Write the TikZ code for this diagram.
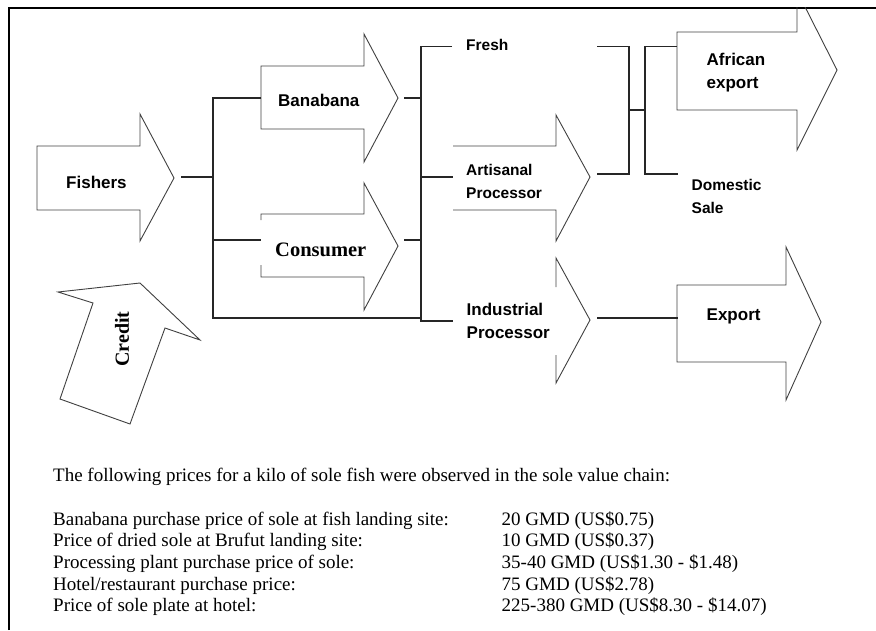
\documentclass[tikz,border=0pt]{standalone}
\usepackage{fontspec}
\setmainfont{Liberation Serif}
\setsansfont{Liberation Sans}
\usetikzlibrary{positioning}

\begin{document}
\begin{tikzpicture}[%
		x=1pt, y=-1pt,
		arrowline/.style={
			draw=black!75,
			line width=0.9pt,
			line join=miter
		},
		link/.style={
			draw=black!85,
			line width=1.3pt
		},
		stage/.style={
			font=\sffamily\bfseries\fontsize{17}{23}\selectfont,
			align=left,
			inner sep=0pt
		},
		minor/.style={
			font=\sffamily\bfseries\fontsize{15.5}{23}\selectfont,
			align=left,
			inner sep=0pt
		},
		serifstage/.style={
			font=\rmfamily\bfseries\fontsize{20.5}{24}\selectfont,
			inner sep=0pt
		},
		price/.style={
			font=\rmfamily\fontsize{19}{22}\selectfont,
			anchor=base west,
			inner sep=0pt
		}]

		\useasboundingbox (0,0) rectangle (876,630);
		\draw[line width=2pt] (8.5,630) -- (8.5,7.5) -- (876,7.5);

		% ARROWS

		\draw[arrowline] (37,146) -- (140,146) -- (140,114) -- (174,178) -- (140,241) -- (140,210) -- (37,210) -- cycle;
		\draw[arrowline] (261,66) -- (364,66) -- (364,34) -- (398,98) -- (364,162) -- (364,129) -- (261,129) -- cycle;
		\draw[arrowline] (261,220) -- (261,214) -- (364,214) -- (364,183) -- (398,246) -- (364,310) -- (364,277) -- (261,277) -- (261,265);
		\draw[arrowline] (453,146) -- (556,146) -- (556,115) -- (590,177) -- (556,241) -- (556,210) -- (453,210);
		\draw[arrowline] (556,287) -- (556,258) -- (590,320) -- (556,383) -- (556,355);
		\begin{scope}
			\clip (0,7) rectangle (876,630);
			\draw[arrowline] (677,32) -- (797,32) -- (797,-9) -- (837,70) -- (797,150) -- (797,110) -- (677,110) -- cycle;
		\end{scope}
		\draw[arrowline] (677,285) -- (786,285) -- (786,247) -- (821,322) -- (786,400) -- (786,362) -- (677,362) -- cycle;
		\draw[arrowline] (93,303) -- (58,292) -- (140,283) -- (200,340) -- (165,328) -- (130,424) -- (60,399) -- cycle;

		% LABELS

		\node (fishers) [stage, anchor=base west] at (66,188) {Fishers};
		\node (banabana) [stage, anchor=base west] at (278,106) {Banabana};
		\node (consumer) [serifstage, anchor=base west] at (275,256.5) {Consumer};
		\node (credit) [serifstage, font=\rmfamily\bfseries\fontsize{20}{24}\selectfont, rotate=90] at (122,339) {Credit};
		\node (fresh) [minor, anchor=base west] at (466,50) {Fresh};
		\node (artisanal) [minor, anchor=north west] at (466,163.8) {Artisanal\\Processor};
		\node (industrial) [stage, anchor=north west] at (466.5,302.8) {Industrial\\Processor};
		\node (african) [stage, anchor=north west] at (706.5,52.8) {African\\export};
		\node (domestic) [minor, anchor=north west] at (691.5,178.9) {Domestic\\Sale};
		\node (export) [stage, anchor=base west] at (706.5,320) {Export};

		% CONNECTION POINTS

		\coordinate (fishers-out) at (181,177);
		\coordinate (banabana-in) at (261,98);
		\coordinate (banabana-out) at (404,98);
		\coordinate (consumer-in) at (261,240);
		\coordinate (consumer-out) at (404,240);
		\coordinate (fresh-in) at (452,46.5);
		\coordinate (fresh-out) at (597,46.5);
		\coordinate (artisanal-in) at (453,177);
		\coordinate (artisanal-out) at (597,174);
		\coordinate (industrial-in) at (453,321);
		\coordinate (industrial-out) at (597,318);
		\coordinate (african-in) at (677,46.5);
		\coordinate (domestic-in) at (678,174);
		\coordinate (export-in) at (678,318);

		\coordinate (bar1-top) at (213,98);
		\coordinate (bar1-bot) at (213,318);
		\coordinate (bar2-top) at (421,46.5);
		\coordinate (bar2-bot) at (421,321);
		\coordinate (bar3-mid) at (629,110);
		\coordinate (bar4-mid) at (645,110);

		% LINES

		\draw[link] (fishers-out) -- (fishers-out -| bar1-top);
		\draw[link] (banabana-in) -- (bar1-top) -- (bar1-bot) -- (bar1-bot -| bar2-top);
		\draw[link] (bar1-top |- consumer-in) -- (consumer-in);
		\draw[link] (banabana-out) -- (banabana-out -| bar2-top);
		\draw[link] (consumer-out) -- (consumer-out -| bar2-top);
		\draw[link] (fresh-in) -- (bar2-top) -- (bar2-bot) -- (industrial-in);
		\draw[link] (bar2-top |- artisanal-in) -- (artisanal-in);

		\draw[link] (fresh-out) -| (bar3-mid |- artisanal-out) -- (artisanal-out);
		\draw[link] (bar3-mid) -- (bar4-mid);
		\draw[link] (african-in) -| (bar4-mid |- domestic-in) -- (domestic-in);
		\draw[link] (industrial-out) -- (export-in);

		% PRICES

		\node (intro) [price] at (53,481.7) {The following prices for a kilo of sole fish were observed in the sole value chain:};

		\node (item1) [price] at (53,525) {Banabana purchase price of sole at fish landing site:};
		\node (item2) [price] at (53,546.7) {Price of dried sole at Brufut landing site:};
		\node (item3) [price] at (53,568.4) {Processing plant purchase price of sole:};
		\node (item4) [price] at (53,590.1) {Hotel/restaurant purchase price:};
		\node (item5) [price] at (53,611.8) {Price of sole plate at hotel:};

		\node (value1) [price] at (501.5,525) {20 GMD (US\$0.75)};
		\node (value2) [price] at (501.5,546.7) {10 GMD (US\$0.37)};
		\node (value3) [price] at (501.5,568.4) {35-40 GMD (US\$1.30 - \$1.48)};
		\node (value4) [price] at (501.5,590.1) {75 GMD (US\$2.78)};
		\node (value5) [price] at (501.5,611.8) {225-380 GMD (US\$8.30 - \$14.07)};
\end{tikzpicture}
\end{document}
